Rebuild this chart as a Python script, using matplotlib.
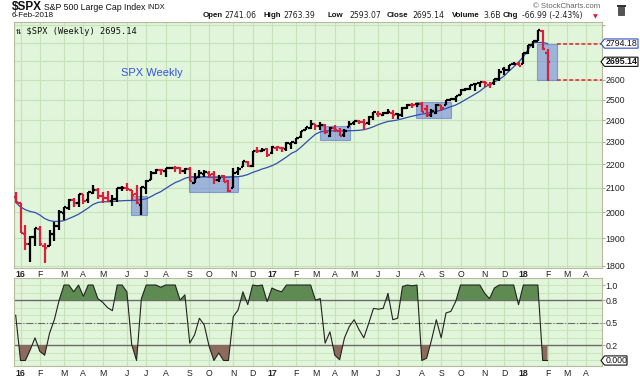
import matplotlib
matplotlib.use('Agg')
import matplotlib.pyplot as plt
import numpy as np
from matplotlib.ticker import FixedLocator, NullLocator, NullFormatter
from matplotlib.patches import Rectangle, Polygon

plt.rcParams['font.family'] = ['Liberation Sans', 'DejaVu Sans']

# ---------------- data (weekly bars, 28-Dec-2015 .. 5-Feb-2018) ----------------
opens = [2060.6, 2038.2, 1916.7, 1878.9, 1906.3, 1936.9, 1873.3, 1871.4, 1917.8, 1947.1,
         1996.1, 2019.3, 2049.8, 2037.9, 2073.2, 2050.2, 2078.8, 2090.6, 2067.2, 2057.6,
         2046.5, 2052.2, 2100.0, 2099.3, 2091.8, 2075.6, 2030.8, 2099.3, 2131.7, 2162.0,
         2173.7, 2173.2, 2183.8, 2186.1, 2182.6, 2170.2, 2181.6, 2120.9, 2144.0, 2160.4,
         2164.3, 2160.4, 2132.6, 2148.5, 2129.0, 2100.6, 2168.1, 2186.4, 2210.2, 2191.1,
         2258.8, 2259.4, 2266.2, 2251.6, 2273.6, 2272.1, 2267.8, 2290.0, 2295.9, 2321.7,
         2354.0, 2366.2, 2380.9, 2371.4, 2378.2, 2329.1, 2363.4, 2352.1, 2332.6, 2370.3,
         2388.5, 2396.8, 2393.0, 2387.2, 2414.5, 2431.9, 2427.4, 2437.0, 2437.0, 2431.4,
         2424.5, 2458.2, 2473.0, 2477.1, 2477.1, 2455.0, 2425.5, 2436.1, 2474.4, 2474.5,
         2501.0, 2503.3, 2521.2, 2547.4, 2555.6, 2578.1, 2583.2, 2588.7, 2576.5, 2582.9,
         2602.7, 2657.2, 2652.2, 2685.9, 2683.0, 2683.7, 2742.7, 2785.0, 2809.2, 2867.2,
         2741.06]
highs = [2081.6, 2038.2, 1950.3, 1908.9, 1940.2, 1947.2, 1881.6, 1930.7, 1963.0, 2009.1,
         2022.4, 2052.4, 2056.6, 2075.1, 2074.0, 2083.9, 2111.1, 2099.9, 2083.4, 2084.9,
         2071.9, 2100.0, 2108.4, 2120.6, 2091.8, 2113.3, 2103.0, 2131.7, 2169.1, 2178.3,
         2177.1, 2183.5, 2188.5, 2193.8, 2187.0, 2184.9, 2187.9, 2163.3, 2175.3, 2175.3,
         2169.6, 2169.6, 2153.6, 2154.8, 2131.5, 2182.3, 2189.9, 2213.4, 2214.1, 2259.5,
         2277.5, 2273.8, 2273.8, 2282.1, 2279.3, 2272.1, 2301.0, 2299.4, 2319.2, 2351.3,
         2368.3, 2401.0, 2383.9, 2390.0, 2382.4, 2370.4, 2378.4, 2363.8, 2361.4, 2398.2,
         2399.3, 2403.9, 2405.8, 2418.7, 2440.2, 2446.2, 2441.8, 2453.8, 2450.4, 2434.2,
         2463.5, 2477.6, 2484.0, 2480.4, 2490.9, 2474.9, 2454.8, 2477.2, 2474.4, 2500.2,
         2508.9, 2519.4, 2552.5, 2557.7, 2575.4, 2583.0, 2588.4, 2597.0, 2590.1, 2604.2,
         2657.7, 2665.2, 2679.6, 2695.0, 2692.1, 2743.5, 2786.2, 2810.3, 2872.9, 2870.6,
         2763.39]
lows = [2043.6, 1918.5, 1857.8, 1812.3, 1872.7, 1872.7, 1810.1, 1871.4, 1891.0, 1931.8,
        1969.3, 2009.1, 2022.3, 2022.5, 2033.8, 2039.7, 2073.3, 2052.3, 2039.7, 2043.1,
        2025.9, 2043.0, 2085.1, 2085.2, 2050.4, 2032.1, 1991.7, 2074.0, 2131.7, 2159.1,
        2156.0, 2147.6, 2177.9, 2168.5, 2160.4, 2157.1, 2127.8, 2119.1, 2139.2, 2144.5,
        2142.6, 2114.7, 2124.5, 2125.4, 2083.8, 2097.9, 2156.1, 2186.4, 2187.4, 2187.9,
        2251.8, 2254.3, 2233.6, 2245.1, 2257.0, 2254.3, 2257.0, 2267.2, 2288.5, 2319.5,
        2352.9, 2358.9, 2354.8, 2356.2, 2335.7, 2322.3, 2344.5, 2329.0, 2323.0, 2369.0,
        2378.2, 2383.6, 2353.8, 2379.8, 2403.6, 2415.7, 2419.4, 2430.8, 2405.7, 2407.7,
        2417.4, 2453.8, 2459.9, 2466.5, 2437.8, 2417.4, 2417.4, 2428.7, 2446.6, 2474.5,
        2496.7, 2488.0, 2521.2, 2543.4, 2547.9, 2544.0, 2566.2, 2566.3, 2557.5, 2575.2,
        2593.3, 2624.8, 2647.9, 2676.1, 2673.6, 2682.4, 2736.1, 2768.6, 2808.1, 2758.0,
        2593.07]
closes = [2043.9, 1922.0, 1880.3, 1906.9, 1940.2, 1880.0, 1864.8, 1917.8, 1948.1, 2000.0,
          2022.2, 2049.6, 2035.9, 2072.8, 2047.6, 2082.4, 2091.6, 2065.3, 2057.1, 2046.6,
          2052.3, 2099.1, 2099.1, 2096.1, 2071.2, 2037.4, 2103.0, 2129.9, 2161.7, 2175.0,
          2173.6, 2182.9, 2184.1, 2183.9, 2169.0, 2180.0, 2127.8, 2139.2, 2164.7, 2168.3,
          2153.7, 2133.0, 2141.2, 2126.4, 2085.2, 2164.5, 2181.9, 2213.4, 2192.0, 2259.5,
          2258.1, 2263.8, 2238.8, 2277.0, 2274.6, 2271.3, 2294.7, 2297.4, 2316.1, 2351.2,
          2367.3, 2383.1, 2372.6, 2378.3, 2344.0, 2362.7, 2355.5, 2329.0, 2348.7, 2384.2,
          2399.3, 2390.9, 2381.7, 2415.8, 2439.1, 2431.8, 2433.2, 2438.3, 2423.4, 2425.2,
          2459.3, 2472.5, 2472.1, 2476.8, 2441.3, 2425.6, 2443.1, 2476.6, 2461.4, 2500.2,
          2502.2, 2519.4, 2549.3, 2553.2, 2575.2, 2581.1, 2587.8, 2582.3, 2578.9, 2602.4,
          2642.2, 2651.5, 2675.8, 2683.3, 2673.6, 2743.2, 2786.2, 2810.3, 2872.9, 2762.1,
          2695.14]
prev_close = 2061.0

ma_values = [2040, 2022, 2011, 2004, 2000, 1990, 1976, 1968, 1965, 1965,
             1968, 1976, 1984, 1993, 2005, 2018, 2032, 2040, 2043, 2043,
             2044, 2046, 2047, 2048, 2048, 2049, 2052, 2055, 2064, 2075,
             2084, 2097, 2110, 2122, 2130, 2140, 2145, 2146, 2145, 2146,
             2145, 2144, 2145, 2144, 2145, 2146, 2147, 2150, 2156, 2165,
             2172, 2180, 2186, 2194, 2204, 2218, 2232, 2248, 2258, 2276,
             2296, 2316, 2335, 2346, 2350, 2351, 2350, 2350, 2351, 2351,
             2352, 2353, 2356, 2362, 2370, 2380, 2388, 2395, 2398, 2402,
             2408, 2414, 2420, 2425, 2430, 2434, 2438, 2443, 2449, 2457,
             2466, 2474, 2486, 2500, 2514, 2528, 2543, 2562, 2578, 2590,
             2602, 2620, 2645, 2668, 2694, 2722, 2762, 2800, 2800, 2800,
             2794.18]

osc_values = [0.60, 0.00, 0.00, 0.14, 0.30, 0.12, 0.07, 0.36, 0.54, 0.80,
              1.00, 1.00, 0.91, 1.00, 0.85, 1.00, 1.00, 0.82, 0.77, 0.70,
              0.66, 1.00, 1.00, 0.91, 0.21, 0.00, 0.82, 1.00, 1.00, 1.00,
              0.97, 1.00, 1.00, 1.00, 0.80, 0.87, 0.23, 0.34, 0.56, 0.47,
              0.19, 0.00, 0.10, 0.00, 0.00, 0.58, 0.67, 0.91, 0.74, 1.00,
              0.99, 1.00, 0.78, 0.96, 0.93, 0.91, 1.00, 1.00, 1.00, 1.00,
              1.00, 1.00, 0.80, 0.82, 0.23, 0.38, 0.07, 0.01, 0.30, 0.45,
              0.54, 0.41, 0.30, 0.49, 0.69, 0.68, 0.69, 0.89, 0.54, 0.56,
              0.98, 1.00, 0.99, 1.00, 0.00, 0.03, 0.27, 0.54, 0.30, 0.63,
              0.65, 0.78, 1.00, 1.00, 1.00, 1.00, 1.00, 0.89, 0.82, 0.96,
              1.00, 1.00, 1.00, 1.00, 0.74, 1.00, 1.00, 1.00, 1.00, 0.00,
              0.00]

month_pos = [1, 5, 10, 14, 18, 23, 27, 31, 36, 40, 45, 49,
             53, 58, 62, 66, 70, 75, 79, 84, 88, 92, 97, 101,
             105, 110, 114, 118]
month_labels = ['16', 'F', 'M', 'A', 'M', 'J', 'J', 'A', 'S', 'O', 'N', 'D',
                '17', 'F', 'M', 'A', 'M', 'J', 'J', 'A', 'S', 'O', 'N', 'D',
                '18', 'F', 'M', 'A']

price_ticks = [1800, 1900, 2000, 2100, 2200, 2300, 2400, 2500, 2600, 2700, 2800, 2900]
price_tick_labels = ['1800', '1900', '2000', '2100', '2200', '2300', '2400', '2500', '2600', '', '', '']
osc_ticks = [1.0, 0.8, 0.5, 0.2]
osc_tick_labels = ['1.0', '0.8', '0.5', '0.2']

# highlight boxes: (x start, x end, low, high) in bar index / price
box_x0 = [23.9, 35.8, 62.9, 82.8, 107.8]
box_x1 = [27.2, 46.0, 69.1, 90.0, 112.0]
box_lo = [1991, 2083, 2308, 2411, 2600]
box_hi = [2065, 2148, 2373, 2487, 2794]
dash_levels = [2794.18, 2600]
dash_start = 112.0

last_close = 2695.14
last_ma = 2794.18
last_osc = 0.0

# ---------------- figure ----------------
W, H = 640, 381
fig = plt.figure(figsize=(6.4, 3.81), dpi=100)
fig.patch.set_facecolor('white')

def fx(x):
    return x / W

def fy(y):
    return 1 - y / H

BG = '#e1f5da'
GRID = '#c6e2b6'
RED = '#d8203c'
SPINE = '#b9b9a0'

ax = fig.add_axes([fx(13.5), fy(267.5), (601.5 - 13.5) / W, (267.5 - 22) / H])
ax2 = fig.add_axes([fx(13.5), fy(366), (601.5 - 13.5) / W, (366 - 278) / H])

n = len(closes)
idx = np.arange(n)
xmin, xmax = -0.45, 121.16

for a in (ax, ax2):
    a.set_facecolor(BG)
    a.set_xlim(xmin, xmax)
    for s in a.spines.values():
        s.set_color(SPINE)
        s.set_linewidth(0.8)
    a.set_xticks(month_pos)
    a.set_xticklabels(month_labels)
    a.tick_params(axis='x', length=0, labelsize=6.3, colors='#222222', pad=2)
    for lab in a.get_xticklabels():
        if lab.get_text() in ('16', '17', '18'):
            lab.set_fontweight('bold')
    a.yaxis.tick_right()
    a.tick_params(axis='y', length=2, color='#aaaaaa', labelsize=6.3, colors='#222222', pad=1)
    for m in month_pos:
        a.axvline(m, color=GRID, lw=0.8, zorder=0)

# ---- main price panel ----
ax.set_yscale('log')
ax.set_ylim(1793.6, 2916)
ax.yaxis.set_major_locator(FixedLocator(price_ticks))
ax.set_yticklabels(price_tick_labels)
ax.yaxis.set_minor_locator(NullLocator())
ax.yaxis.set_minor_formatter(NullFormatter())
for p in price_ticks:
    ax.axhline(p, color=GRID, lw=0.8, zorder=0)

# highlight boxes
for x0, x1, lo, hi in zip(box_x0, box_x1, box_lo, box_hi):
    ax.add_patch(Rectangle((x0, lo), x1 - x0, hi - lo, facecolor='#6a86d8', alpha=0.58,
                           edgecolor='#5570c8', lw=0.8, zorder=1))

# moving average
ax.plot(idx, ma_values, color='#2f4fb0', lw=0.9, zorder=2)

# OHLC bars
colors = []
pc = prev_close
for c in closes:
    colors.append('black' if c >= pc else RED)
    pc = c
ax.vlines(idx, lows, highs, colors=colors, lw=1.6, zorder=3)
ax.hlines(opens, idx - 0.5, idx, colors=colors, lw=1.6, zorder=3)
ax.hlines(closes, idx, idx + 0.5, colors=colors, lw=1.6, zorder=3)

# red dashed levels
for lv in dash_levels:
    ax.plot([dash_start, xmax], [lv, lv], color='#e0202a', lw=1.1, ls=(0, (2.5, 1.5)), zorder=2)

ax.text(0.004, 0.978, '\u21c5 $SPX (Weekly) 2695.14', transform=ax.transAxes, ha='left', va='top',
        fontsize=6.2, family=['DejaVu Sans Mono', 'DejaVu Sans'], color='#111111')
ax.text(28.2, 2636, 'SPX Weekly', ha='center', va='center', fontsize=8, color='#3355dd')

# ---- oscillator panel ----
ax2.set_ylim(-0.073, 1.093)
ax2.set_yticks(osc_ticks)
ax2.set_yticklabels(osc_tick_labels)
for g in np.arange(0.0, 1.05, 0.1):
    ax2.axhline(g, color=GRID, lw=0.6, zorder=0)
ax2.axhline(0.8, color='#6a6a6a', lw=1.0, zorder=1)
ax2.axhline(0.2, color='#6a6a6a', lw=1.0, zorder=1)
ax2.axhline(0.5, color='#6a6a6a', lw=0.8, ls='-.', zorder=1)
osc = np.array(osc_values)
ax2.fill_between(idx, osc, 0.8, where=osc >= 0.8, interpolate=True, color='#5e8b52', zorder=2, lw=0)
ax2.fill_between(idx, osc, 0.2, where=osc <= 0.2, interpolate=True, color='#8d6b5c', zorder=2, lw=0)
ax2.plot(idx, osc, color='#222222', lw=0.8, zorder=3)

# ---- value tags on right axis ----
def tag(axis, value, text, ec, bold, width):
    disp = axis.transData.transform((0, value))
    yc = H - disp[1]
    x0 = 601.0
    hh = 4.6
    pts = [(x0, yc), (x0 + 3.5, yc - hh), (x0 + width, yc - hh), (x0 + width, yc + hh), (x0 + 3.5, yc + hh)]
    fig.patches.append(Polygon([(fx(px), fy(py)) for px, py in pts], closed=True,
                               transform=fig.transFigure, facecolor='white', edgecolor=ec, lw=0.8))
    fig.text(fx(x0 + 4.5), fy(yc), text, fontsize=6.3, va='center', ha='left',
             fontweight='bold' if bold else 'normal', color='#111111')

tag(ax, last_ma, f'{last_ma:.2f}', '#3050c0', False, 37)
tag(ax, last_close, f'{last_close:.2f}', '#111111', True, 37)
tag(ax2, last_osc, f'{last_osc:.3f}', '#111111', False, 26)

# ---- header ----
fig.text(fx(12), fy(7.5), '$SPX', fontsize=8.5, fontweight='bold', va='center', ha='left', color='#111111')
fig.text(fx(44), fy(7.5), 'S&P 500 Large Cap Index', fontsize=6.3, va='center', ha='left', color='#111111')
fig.text(fx(147), fy(7.5), 'INDX', fontsize=5.3, va='center', ha='left', color='#111111')
fig.text(fx(12), fy(15.8), '6-Feb-2018', fontsize=5.9, va='center', ha='left', color='#111111')

hdr = [(203, 'Open', True), (224.5, '2741.06', False),
       (263.5, 'High', True), (283.5, '2763.39', False),
       (328, 'Low', True), (349, '2593.07', False),
       (387, 'Close', True), (412, '2695.14', False),
       (452, 'Volume', True), (483.5, '3.6B', False),
       (503, 'Chg', True), (522, '-66.99 (-2.43%)', False)]
for x, t, b in hdr:
    if b:
        fig.text(fx(x), fy(15.8), t, fontsize=5.7, fontweight='bold', va='center', ha='left', color='#111111')
    else:
        fig.text(fx(x), fy(15.8), t, fontsize=5.6, va='center', ha='left', color='#222222',
                 family=['DejaVu Sans'])
fig.text(fx(593), fy(16.5), '\u25bc', fontsize=4.5, va='center', ha='left', color=RED, family=['DejaVu Sans'])
fig.text(fx(600), fy(7), '\u00a9 StockCharts.com', fontsize=5.6, va='center', ha='right', color='#666666')

# trash icon
fig.patches.append(Rectangle((fx(618), fy(15)), 6 / W, 8 / H, transform=fig.transFigure,
                             facecolor='#555555', edgecolor='#333333', lw=0.5))
fig.patches.append(Rectangle((fx(616.5), fy(6.5)), 9 / W, 1.2 / H, transform=fig.transFigure,
                             facecolor='#333333', edgecolor='none'))

fig.savefig('out.png', dpi=100, facecolor='white')
